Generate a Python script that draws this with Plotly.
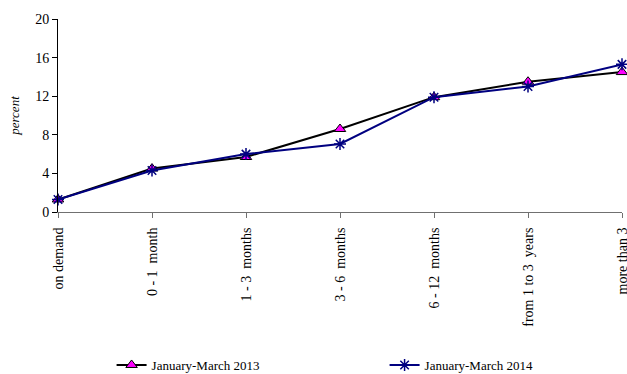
import plotly.graph_objects as go

# Maturity buckets and shares of deposits (percent)
categories = ["on demand", "0 - 1  month", "1 - 3  months", "3 - 6  months",
              "6 - 12  months", "from 1 to 3  years", "more than 3"]
jan_mar_2013 = [1.3, 4.5, 5.7, 8.6, 11.9, 13.5, 14.5]
jan_mar_2014 = [1.3, 4.3, 6.0, 7.05, 11.9, 13.0, 15.3]
y_ticks = [0, 4, 8, 12, 16, 20]

FONT = "Liberation Serif"

fig = go.Figure()
fig.add_trace(go.Scatter(
    x=categories, y=jan_mar_2013, name="January-March 2013",
    mode="lines+markers",
    line=dict(color="black", width=2),
    marker=dict(symbol="triangle-up", size=10, color="#ff00ff",
                line=dict(color="black", width=1)),
    cliponaxis=False,
))
fig.add_trace(go.Scatter(
    x=categories, y=jan_mar_2014, name="January-March 2014",
    mode="lines+markers",
    line=dict(color="#000080", width=2),
    marker=dict(symbol="asterisk-open", size=10, color="#000080",
                line=dict(color="#000080", width=1.5)),
    cliponaxis=False,
))

fig.update_layout(
    width=627, height=374,
    margin=dict(l=58, r=5, t=19, b=162, autoexpand=False),
    paper_bgcolor="white", plot_bgcolor="white",
    font=dict(family=FONT, size=13, color="black"),
    showlegend=True,
    legend=dict(
        orientation="h", x=0.095, y=0.024, xanchor="left", yanchor="middle",
        xref="paper", yref="container",
        font=dict(family=FONT, size=13),
        entrywidth=228, entrywidthmode="pixels",
        bgcolor="rgba(0,0,0,0)",
    ),
    xaxis=dict(
        type="category", range=[0, 6],
        showgrid=False, zeroline=False,
        showline=True, linecolor="#707070", linewidth=1,
        ticks="outside", ticklen=5, tickcolor="#707070",
        tickangle=-90, tickfont=dict(family=FONT, size=14),
        ticklabelstandoff=4,
    ),
    yaxis=dict(
        range=[0, 20], tickvals=y_ticks,
        showgrid=False, zeroline=False,
        showline=True, linecolor="black", linewidth=1,
        ticks="outside", ticklen=5, tickcolor="black",
        tickfont=dict(family=FONT, size=14),
        title=dict(text="<i>percent</i>", font=dict(family=FONT, size=13),
                   standoff=12),
    ),
)

fig.write_html("out.html")
